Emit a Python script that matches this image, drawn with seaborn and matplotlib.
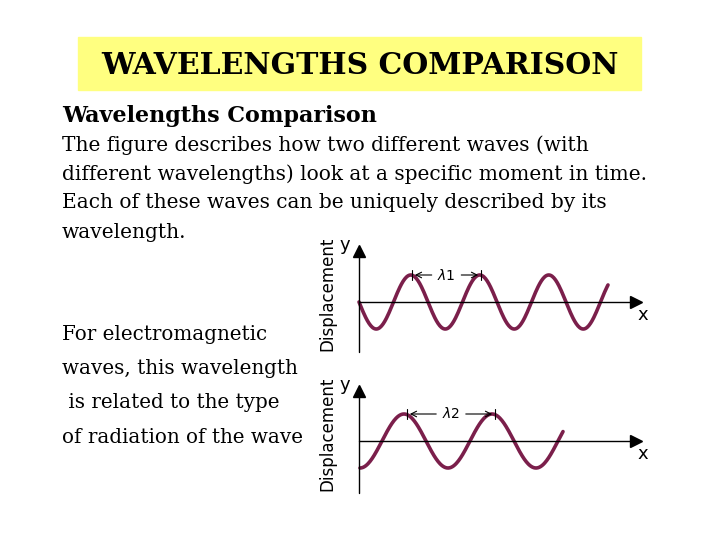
import numpy as np
import pandas as pd
import seaborn as sns
import matplotlib.pyplot as plt

# Parametros de las ondas (en pixeles del slide)
wave_names = ["onda1", "onda2"]
wave_start = [359, 360]
wave_end = [608, 563]
wave_length = [69, 88]
wave_amp = [27, 27]
wave_phase = [0.0, 0.25]      # fraccion de ciclo
wave_axis_y = [302, 441]
yaxis_top = [245, 385]
yaxis_bottom = [352, 493]
lambda_labels = [r"$\lambda$1", r"$\lambda$2"]
lambda_from = [412, 407]
lambda_to = [481, 495]

body_lines = [
    "The figure describes how two different waves (with",
    "different wavelengths) look at a specific moment in time.",
    "Each of these waves can be uniquely described by its",
    "wavelength.",
]
side_lines = ["For electromagnetic", "waves, this wavelength", " is related to the type",
              "of radiation of the wave"]

sns.set_style("white")
plt.rcParams['font.family'] = ['DejaVu Serif']
plt.rcParams['text.color'] = 'black'
fig = plt.figure(figsize=(7.2, 5.4), dpi=100)
ax = fig.add_axes([0, 0, 1, 1])
ax.set_xlim(0, 720)
ax.set_ylim(540, 0)
ax.axis("off")

# titulo
ax.add_patch(plt.Rectangle((78, 37), 563, 53, color="#ffff80", zorder=0))
ax.text(360, 65, "WAVELENGTHS COMPARISON", ha="center", va="center",
        fontsize=21.5, fontweight="bold")

ax.text(62, 116, "Wavelengths Comparison", fontsize=16, fontweight="bold", va="center")
for i, line in enumerate(body_lines):
    ax.text(62, 145 + i * 29, line, fontsize=14.5, va="center")
for i, line in enumerate(side_lines):
    ax.text(62, 334 + i * 34.5, line, fontsize=14.3, va="center")

rows = []
for i in range(2):
    x = np.linspace(wave_start[i], wave_end[i], 300)
    y = wave_axis_y[i] + wave_amp[i] * np.sin(2 * np.pi * ((x - wave_start[i]) / wave_length[i] + wave_phase[i]))
    rows.append(pd.DataFrame({"x": x, "y": y, "onda": wave_names[i]}))
df = pd.concat(rows)
sns.lineplot(data=df, x="x", y="y", units="onda", estimator=None, color="#7b1f4b",
             lw=2.6, ax=ax, sort=False)

for i in range(2):
    ax.plot([359, 359], [yaxis_top[i] + 8, yaxis_bottom[i]], color="black", lw=1)
    ax.plot([359, 632], [wave_axis_y[i]] * 2, color="black", lw=1)
    ax.plot(359, yaxis_top[i] + 6, marker="^", color="black", ms=9)
    ax.plot(636, wave_axis_y[i], marker=">", color="black", ms=9)
    ax.text(345, yaxis_top[i], "y", fontsize=13, family="DejaVu Sans", ha="center", va="center")
    ax.text(643, wave_axis_y[i] + 13, "x", fontsize=13, family="DejaVu Sans", ha="center", va="center")
    ax.text(327, (yaxis_top[i] + yaxis_bottom[i]) / 2 - 5, "Displacement", rotation=90, fontsize=12,
            family="DejaVu Sans", ha="center", va="center")
    ly = wave_axis_y[i] - wave_amp[i]
    mid = (lambda_from[i] + lambda_to[i]) / 2
    ax.text(mid, ly, lambda_labels[i], fontsize=10, family="DejaVu Sans", ha="center", va="center")
    for a, b in [(mid - 12, lambda_from[i]), (mid + 12, lambda_to[i])]:
        ax.annotate("", xy=(b, ly), xytext=(a, ly),
                    arrowprops=dict(arrowstyle="->", lw=0.8, color="black"))
        ax.plot([b, b], [ly - 5, ly + 5], color="black", lw=0.8)

fig.savefig("out.png", dpi=100)
